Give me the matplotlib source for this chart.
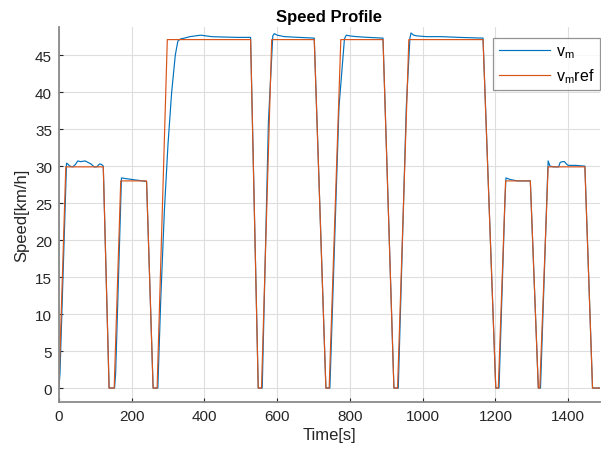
import matplotlib
matplotlib.use("Agg")
import matplotlib.pyplot as plt

# Reference speed profile (km/h) against time (s)
t_ref = [0, 19, 122, 138, 152, 170, 241, 259, 270, 298, 527, 548, 557, 585, 702,
         734, 743, 775, 891, 921, 931, 962, 1166, 1201, 1208, 1228, 1296, 1318,
         1322, 1345, 1446, 1467, 1490]
v_ref = [0, 29.9, 29.9, 0, 0, 28.0, 28.0, 0, 0, 47.1, 47.1, 0, 0, 47.1, 47.1,
         0, 0, 47.1, 47.1, 0, 0, 47.1, 47.1, 0, 0, 28.0, 28.0, 0,
         0, 29.9, 29.9, 0, 0]

# Measured vehicle speed
t_meas = [0, 3, 21, 24, 30, 38, 45, 52, 60, 72, 80, 88, 97, 104, 112, 118, 122,
          138, 153, 156, 172, 185, 200, 215, 230, 241, 259, 272,
          280, 290, 300, 310, 320, 327, 335, 345, 360, 375, 390, 405, 420, 450,
          490, 527, 548, 559, 576, 588, 592, 600, 620, 660, 702,
          734, 745, 770, 785, 790, 800, 818, 850, 891,
          921, 933, 955, 965, 968, 975, 985, 1010, 1050, 1100, 1166,
          1201, 1210, 1226, 1229, 1240, 1260, 1296,
          1318, 1324, 1343, 1345, 1350, 1360, 1374, 1378, 1384, 1390, 1395,
          1400, 1420, 1446, 1467, 1490]
v_meas = [0, 2, 30.4, 30.3, 30.0, 29.9, 30.2, 30.7, 30.6, 30.7, 30.5, 30.3, 29.9,
          29.9, 30.3, 30.2, 30.0,
          0, 0, 2, 28.4, 28.3, 28.2, 28.1, 28.0, 27.9, 0, 0,
          12, 24, 33, 40, 45, 46.9, 47.2, 47.3, 47.5, 47.6, 47.7, 47.6, 47.5,
          47.45, 47.4, 47.4, 0, 0, 36, 47.6, 47.9, 47.7, 47.5, 47.4, 47.3,
          0, 0, 38, 47.2, 47.7, 47.6, 47.5, 47.4, 47.3,
          0, 0, 38, 47.3, 48.0, 47.7, 47.6, 47.5, 47.5, 47.4, 47.3,
          0, 0, 25, 28.4, 28.2, 28.0, 28.0,
          0, 0, 28, 30.7, 30.0, 29.9, 29.9, 30.5, 30.6, 30.6, 30.3,
          30.1, 30.1, 30.0, 0, 0]

x_ticks = [0, 200, 400, 600, 800, 1000, 1200, 1400]
y_ticks = [0, 5, 10, 15, 20, 25, 30, 35, 40, 45]

plt.rcParams['font.family'] = ['Liberation Sans', 'DejaVu Sans']
plt.rcParams['mathtext.fontset'] = 'custom'
plt.rcParams['mathtext.rm'] = 'Liberation Sans'
plt.rcParams['mathtext.it'] = 'Liberation Sans'

fig = plt.figure(figsize=(6.01, 4.52), dpi=100)
ax = fig.add_axes([0.098, 0.109, 0.900, 0.829])

ax.plot(t_meas, v_meas, color='#0072BD', lw=0.85, label=r'v$_{\mathrm{m}}$')
ax.plot(t_ref, v_ref, color='#D95319', lw=0.85, label=r'v$_{\mathrm{m}}$ref')

ax.set_xlim(0, 1487)
ax.set_ylim(-1.85, 48.8)
ax.set_xticks(x_ticks)
ax.set_yticks(y_ticks)

ax.grid(True, color='#dedede', lw=0.8)
ax.set_axisbelow(True)
for s in ['top', 'right']:
    ax.spines[s].set_visible(False)
for s in ['left', 'bottom']:
    ax.spines[s].set_color('#8a8a8a')
    ax.spines[s].set_linewidth(1.3)
ax.tick_params(direction='in', length=3, width=0.8, color='#262626',
               labelsize=11, labelcolor='#262626', pad=5)

ax.set_title('Speed Profile', fontsize=12, fontweight='bold', pad=4)
ax.set_xlabel('Time[s]', fontsize=12, color='#262626', labelpad=3)
ax.set_ylabel('Speed[km/h]', fontsize=12, color='#262626', labelpad=4)

leg = ax.legend(loc='upper right', bbox_to_anchor=(1.0, 0.972), fontsize=11.5,
                frameon=True, fancybox=False, edgecolor='#7a7a7a',
                handlelength=3.2, handletextpad=0.35, borderpad=0.35,
                labelspacing=0.4, borderaxespad=0.0)
leg.get_frame().set_linewidth(0.9)

fig.savefig('out.png', dpi=100)
